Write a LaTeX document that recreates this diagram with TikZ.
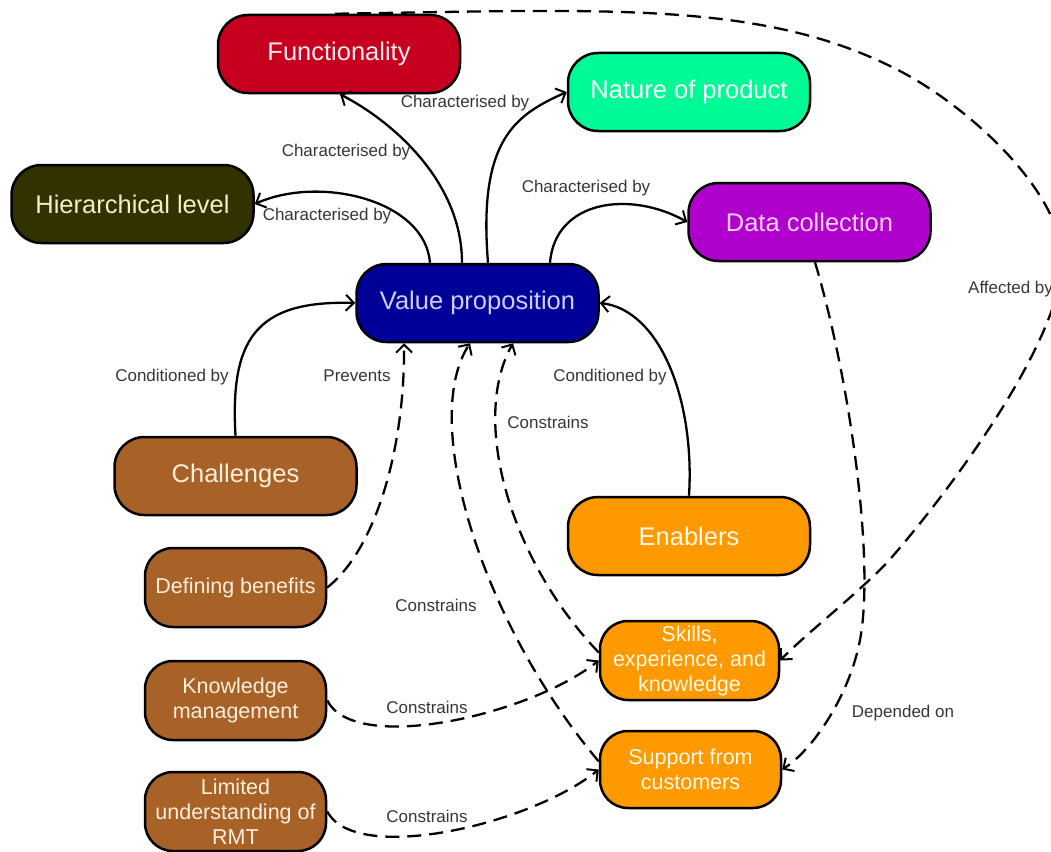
\documentclass[tikz,border=0pt]{standalone}
\usepackage{fontspec}
\setmainfont{Liberation Sans}
\usetikzlibrary{arrows.meta,calc}
\definecolor{cfunc}{RGB}{198,0,30}
\definecolor{cnat}{RGB}{0,250,150}
\definecolor{chl}{RGB}{50,50,0}
\definecolor{cdata}{RGB}{176,0,204}
\definecolor{cvp}{RGB}{0,0,153}
\definecolor{cbrown}{RGB}{168,98,40}
\definecolor{corange}{RGB}{255,153,0}
\definecolor{labelgray}{RGB}{55,55,55}
\begin{document}
\begin{tikzpicture}[x=1pt,y=-1pt,
  box/.style={draw=black, line width=2.5pt, rounded corners=30pt, minimum width=242pt, minimum height=78pt, inner sep=2pt, font=\fontsize{25.5}{30}\selectfont, align=center},
  sbox/.style={box, minimum width=181pt, minimum height=79pt, rounded corners=28pt, font=\fontsize{21.5}{25}\selectfont},
  conn/.style={line width=2.3pt, -{Straight Barb[length=8pt,width=16pt,line width=2pt]}},
  dconn/.style={conn, dash pattern=on 14pt off 8pt},
  lbl/.style={font=\fontsize{17}{20}\selectfont, text=labelgray, inner sep=1pt}]
\useasboundingbox (0,0) rectangle (1051,851);
\fill[white] (0,0) rectangle (1051,851);
\clip (0,0) rectangle (1051,851);

% nodes
\node[box, fill=cfunc, text={rgb,255:red,255;green,235;blue,240}] (func) at (339,54) {Functionality};
\node[box, fill=cnat, text=white] (nat) at (689,92) {Nature of product};
\node[box, fill=chl, text={rgb,255:red,238;green,238;blue,205}] (hl) at (132.5,204) {Hierarchical level};
\node[box, fill=cdata, text={rgb,255:red,255;green,205;blue,255}] (data) at (809.5,222) {Data collection};
\node[box, fill=cvp, text={rgb,255:red,205;green,205;blue,255}] (vp) at (477.5,303) {Value proposition};
\node[box, fill=cbrown, text={rgb,255:red,255;green,238;blue,220}] (chal) at (235.5,476) {Challenges};
\node[box, fill=corange, text={rgb,255:red,255;green,248;blue,230}] (enab) at (689,536) {Enablers};
\node[sbox, fill=cbrown, text={rgb,255:red,255;green,238;blue,220}] (db) at (235.5,587.5) {Defining benefits};
\node[sbox, fill=cbrown, text={rgb,255:red,255;green,238;blue,220}] (km) at (235.5,700.5) {Knowledge\\management};
\node[sbox, fill=cbrown, text={rgb,255:red,255;green,238;blue,220}] (lu) at (235.5,811.5) {Limited\\understanding of\\RMT};
\node[sbox, fill=corange, text={rgb,255:red,255;green,248;blue,230}, minimum width=179pt] (sk) at (689.5,660.5) {Skills,\\experience, and\\knowledge};
\node[sbox, fill=corange, text={rgb,255:red,255;green,248;blue,230}, minimum height=77pt] (sup) at (690.5,769.5) {Support from\\customers};

% solid connectors
\draw[conn] ($(vp.north)+(-47.5,0)$) .. controls (425,200) and (320,175) .. (hl.east);
\draw[conn] ($(vp.north)+(-15.5,0)$) .. controls (462,180) and (390,120) .. ($(func.south)+(1,0)$);
\draw[conn] ($(vp.north)+(10.5,0)$) .. controls (478,140) and (515,115) .. (nat.west);
\draw[conn] ($(vp.north)+(72.5,0)$) .. controls (555,200) and (630,190) .. (data.west);
\draw[conn] (chal.north) .. controls (230,340) and (255,300) .. (vp.west);
\draw[conn] (enab.north) .. controls (695,400) and (660,310) .. (vp.east);

% dashed connectors
\draw[dconn] ($(func.north)+(-4,0)$) .. controls (600,10) and (757,0) .. (892,67)
  .. controls (964,102) and (1062,190) .. (1062,260)
  .. controls (1062,340) and (951,489) .. (892,557)
  .. controls (866,587) and (803,636) .. (sk.east);
\draw[dconn] ($(data.south)+(5.5,0)$) .. controls (850,380) and (875,560) .. (860,640)
  .. controls (850,693) and (815,748) .. (sup.east);
\draw[dconn] (db.east) .. controls (375,550) and (405,450) .. ($(vp.south)+(-73.5,0)$);
\draw[dconn] ($(sup.west)+(0,-8)$) .. controls (480,620) and (420,420) .. ($(vp.south)+(-7.5,0)$);
\draw[dconn] ($(sk.west)+(0,-8)$) .. controls (510,560) and (470,420) .. ($(vp.south)+(35.5,0)$);
\draw[dconn] (km.east) .. controls (355,755) and (530,715) .. (sk.west);
\draw[dconn] (lu.east) .. controls (355,865) and (530,825) .. (sup.west);

% labels
\node[lbl] (l1) at (327,216) {Characterised by};
\node[lbl] (l2) at (346,152) {Characterised by};
\node[lbl] (l3) at (465,103) {Characterised by};
\node[lbl] (l4) at (586,188) {Characterised by};
\node[lbl] (l5) at (172,377) {Conditioned by};
\node[lbl] (l6) at (357,376) {Prevents};
\node[lbl] (l7) at (610,377) {Conditioned by};
\node[lbl] (l8) at (548,422) {Constrains};
\node[lbl] (l9) at (436,605) {Constrains};
\node[lbl] (l10) at (427,707) {Constrains};
\node[lbl] (l11) at (427,816) {Constrains};
\node[lbl] (l12) at (903,713) {Depended on};
\node[lbl, anchor=west] (l13) at (967,289) {Affected by};
\end{tikzpicture}
\end{document}
